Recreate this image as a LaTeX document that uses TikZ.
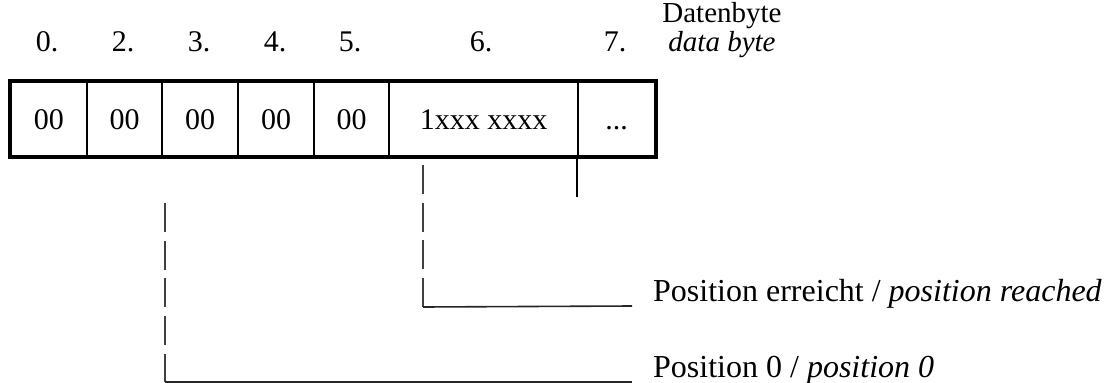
\documentclass[tikz,border=0pt]{standalone}
\usepackage{fontspec}
\setmainfont{Liberation Serif}
\usetikzlibrary{calc}
\begin{document}
\begin{tikzpicture}[x=1pt,y=-1pt,
  every node/.style={font=\fontsize{30}{36}\selectfont, inner sep=0pt},
  cell/.style={draw, line width=2.5pt, minimum height=74pt, anchor=center, text height=20pt, text depth=0pt},
  idx/.style={anchor=base},
  lbl/.style={anchor=base west, font=\fontsize{32}{38}\selectfont},
  dashline/.style={draw=black!75, line width=1.5pt, dash pattern=on 29pt off 8.7pt},
  uline/.style={draw=black!85, line width=1.6pt},
  tick/.style={draw, line width=2.5pt}]
\useasboundingbox (0,0) rectangle (1109,383);
% cells
\node[cell, minimum width=76pt] (c0) at (49,119) {00};
\node[cell, minimum width=75pt] (c1) at (124.5,119) {00};
\node[cell, minimum width=76pt] (c2) at (200,119) {00};
\node[cell, minimum width=76pt] (c3) at (276,119) {00};
\node[cell, minimum width=75pt] (c4) at (351.5,119) {00};
\node[cell, minimum width=189pt] (c5) at (483.5,119) {1xxx xxxx};
\node[cell, minimum width=77pt] (c6) at (616.5,119) {...};
\draw[line width=4pt] (c0.north west) rectangle (c6.south east);
% index labels
\node[idx] (i0) at (47,51) {0.};
\node[idx] (i1) at (123,51) {2.};
\node[idx] (i2) at (199,51) {3.};
\node[idx] (i3) at (275,51) {4.};
\node[idx] (i4) at (350,51) {5.};
\node[idx] (i5) at (481,51) {6.};
\node[idx] (i6) at (615,51) {7.};
\node[anchor=base, font=\fontsize{29}{34}\selectfont] (db) at (722,22) {Datenbyte};
\node[anchor=base, font=\fontsize{29}{34}\selectfont] (dbe) at (722,51) {\itshape data byte};
% pointer lines
\draw[tick] (c6.south west) -- ++(0,40) coordinate (t7);
\coordinate (r0) at (423,165);
\coordinate (r1) at (423,307);
\coordinate (r2) at (632,306);
\coordinate (l0) at (165,203);
\coordinate (l1) at (165,382);
\coordinate (l2) at (632,382);
\node[lbl] (pr) at (653,301) {Position erreicht / \textit{position reached}};
\node[lbl] (p0) at (653,377) {Position 0 / \textit{position 0}};
\draw[dashline] (r0) -- (r1);
\draw[uline] (r1) -- (r2);
\draw[dashline] (l0) -- (l1);
\draw[uline] (l1) -- (l2);
\end{tikzpicture}
\end{document}
